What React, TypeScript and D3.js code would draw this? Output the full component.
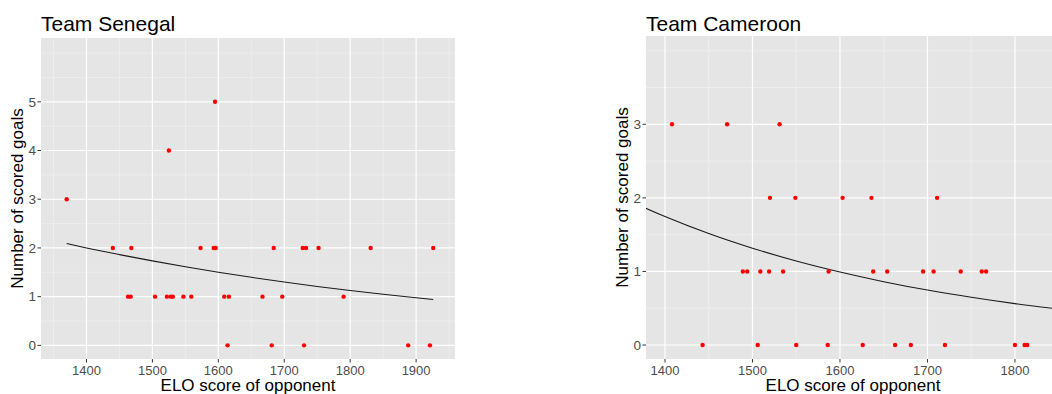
import React, { useRef, useEffect } from "react";
import * as d3 from "d3";

// Senegal: ELO of opponent and goals scored
const senegalElo = [
  1370, 1440, 1468, 1573, 1593, 1596, 1684, 1728, 1733, 1752, 1831, 1926,
  1463, 1467, 1504, 1522, 1528, 1531, 1547, 1559, 1609, 1616, 1667, 1697, 1790,
  1614, 1681, 1730, 1888, 1921, 1525, 1595,
];
const senegalGoals = [
  3, 2, 2, 2, 2, 2, 2, 2, 2, 2, 2, 2,
  1, 1, 1, 1, 1, 1, 1, 1, 1, 1, 1, 1, 1,
  0, 0, 0, 0, 0, 4, 5,
];
// fitted curve
const senegalFitElo = [1370, 1400, 1450, 1500, 1550, 1600, 1650, 1700, 1750, 1800, 1850, 1900, 1926];
const senegalFitGoals = [2.09, 2.0, 1.863, 1.734, 1.613, 1.502, 1.397, 1.301, 1.21, 1.126, 1.048, 0.976, 0.94];

// Cameroon
const cameroonElo = [
  1408, 1471, 1531,
  1520, 1549, 1603, 1636, 1711,
  1489, 1494, 1509, 1519, 1535, 1587, 1638, 1654, 1695, 1707, 1738, 1762, 1767,
  1443, 1506, 1550, 1586, 1626, 1663, 1681, 1720, 1800, 1811, 1814,
];
const cameroonGoals = [
  3, 3, 3,
  2, 2, 2, 2, 2,
  1, 1, 1, 1, 1, 1, 1, 1, 1, 1, 1, 1, 1,
  0, 0, 0, 0, 0, 0, 0, 0, 0, 0, 0,
];
const cameroonFitElo = [1378, 1400, 1450, 1500, 1550, 1600, 1650, 1700, 1750, 1800, 1850];
const cameroonFitGoals = [1.86, 1.747, 1.516, 1.316, 1.142, 0.992, 0.861, 0.747, 0.649, 0.563, 0.489];

const xTicks = [1400, 1500, 1600, 1700, 1800, 1900];
const xMinor = [1350, 1450, 1550, 1650, 1750, 1850, 1950];
const senegalYTicks = [0, 1, 2, 3, 4, 5];
const senegalYMinor = [0.5, 1.5, 2.5, 3.5, 4.5, 5.5, 6];
const cameroonYTicks = [0, 1, 2, 3];
const cameroonYMinor = [0.5, 1.5, 2.5, 3.5, 4];

const FONT = "'Liberation Sans', Arial, Helvetica, sans-serif";

function drawPanel(svg, opts) {
  const { title, elo, goals, fitElo, fitGoals, xDomain, xRange, yDomain, yRange, yTicks, yMinor, yTitleX, id } = opts;
  const x = d3.scaleLinear().domain(xDomain).range(xRange);
  const y = d3.scaleLinear().domain(yDomain).range(yRange);
  const [left, right] = xRange;
  const [bottom, top] = yRange;
  const g = svg.append("g");

  g.append("clipPath")
    .attr("id", id)
    .append("rect")
    .attr("x", left)
    .attr("y", top)
    .attr("width", right - left)
    .attr("height", bottom - top);

  g.append("rect")
    .attr("x", left)
    .attr("y", top)
    .attr("width", right - left)
    .attr("height", bottom - top)
    .attr("fill", "#e5e5e5");

  const grid = g.append("g").attr("clip-path", `url(#${id})`);
  const xMin = xMinor.filter((v) => v >= xDomain[0] && v <= xDomain[1]);
  const xMaj = xTicks.filter((v) => v >= xDomain[0] && v <= xDomain[1]);

  grid.selectAll(".hmin").data(yMinor).enter().append("line")
    .attr("x1", left).attr("x2", right)
    .attr("y1", (d) => y(d)).attr("y2", (d) => y(d))
    .attr("stroke", "#f4f4f4").attr("stroke-width", 0.6);
  grid.selectAll(".vmin").data(xMin).enter().append("line")
    .attr("y1", top).attr("y2", bottom)
    .attr("x1", (d) => x(d)).attr("x2", (d) => x(d))
    .attr("stroke", "#f4f4f4").attr("stroke-width", 0.6);
  grid.selectAll(".hmaj").data(yTicks).enter().append("line")
    .attr("x1", left).attr("x2", right)
    .attr("y1", (d) => y(d)).attr("y2", (d) => y(d))
    .attr("stroke", "#ffffff").attr("stroke-width", 1.2);
  grid.selectAll(".vmaj").data(xMaj).enter().append("line")
    .attr("y1", top).attr("y2", bottom)
    .attr("x1", (d) => x(d)).attr("x2", (d) => x(d))
    .attr("stroke", "#ffffff").attr("stroke-width", 1.2);

  // fitted curve
  const line = d3.line().x((d) => x(d[0])).y((d) => y(d[1])).curve(d3.curveMonotoneX);
  grid.append("path")
    .datum(fitElo.map((e, i) => [e, fitGoals[i]]))
    .attr("d", line)
    .attr("fill", "none")
    .attr("stroke", "#1a1a1a")
    .attr("stroke-width", 1.1);

  // points
  grid.selectAll(".pt").data(elo).enter().append("circle")
    .attr("cx", (d) => x(d))
    .attr("cy", (d, i) => y(goals[i]))
    .attr("r", 2.2)
    .attr("fill", "#ff0000");

  // x axis
  g.selectAll(".xt").data(xMaj).enter().append("line")
    .attr("x1", (d) => x(d)).attr("x2", (d) => x(d))
    .attr("y1", bottom).attr("y2", bottom + 3.5)
    .attr("stroke", "#333333").attr("stroke-width", 1);
  g.selectAll(".xl").data(xMaj).enter().append("text")
    .attr("x", (d) => x(d))
    .attr("y", bottom + 15.5)
    .attr("text-anchor", "middle")
    .attr("font-family", FONT)
    .attr("font-size", 13)
    .attr("fill", "#4d4d4d")
    .text((d) => d);

  // y axis
  g.selectAll(".yt").data(yTicks).enter().append("line")
    .attr("x1", left - 3.5).attr("x2", left)
    .attr("y1", (d) => y(d)).attr("y2", (d) => y(d))
    .attr("stroke", "#333333").attr("stroke-width", 1);
  g.selectAll(".yl").data(yTicks).enter().append("text")
    .attr("x", left - 5)
    .attr("y", (d) => y(d))
    .attr("dy", "0.35em")
    .attr("text-anchor", "end")
    .attr("font-family", FONT)
    .attr("font-size", 13.5)
    .attr("fill", "#4d4d4d")
    .text((d) => d);

  // titles
  g.append("text")
    .attr("x", left)
    .attr("y", 31)
    .attr("font-family", FONT)
    .attr("font-size", 21)
    .attr("fill", "#000")
    .text(title);

  g.append("text")
    .attr("x", opts.xTitleX)
    .attr("y", 391)
    .attr("text-anchor", "middle")
    .attr("font-family", FONT)
    .attr("font-size", 17)
    .attr("fill", "#000")
    .text("ELO score of opponent");

  g.append("text")
    .attr("transform", `translate(${yTitleX},${(top + bottom) / 2}) rotate(-90)`)
    .attr("text-anchor", "middle")
    .attr("font-family", FONT)
    .attr("font-size", 17)
    .attr("fill", "#000")
    .text("Number of scored goals");
}

const App = () => {
  const ref = useRef(null);

  useEffect(() => {
    const svg = d3.select(ref.current);
    svg.selectAll("*").remove();
    svg.append("rect").attr("width", 1052).attr("height", 394).attr("fill", "#fff");

    drawPanel(svg, {
      id: "clipSen",
      title: "Team Senegal",
      elo: senegalElo,
      goals: senegalGoals,
      fitElo: senegalFitElo,
      fitGoals: senegalFitGoals,
      xDomain: [1331, 1959],
      xRange: [41, 455],
      yDomain: [-0.28, 6.31],
      yRange: [359, 38],
      yTicks: senegalYTicks,
      yMinor: senegalYMinor,
      yTitleX: 22.5,
      xTitleX: 248,
    });

    drawPanel(svg, {
      id: "clipCam",
      title: "Team Cameroon",
      elo: cameroonElo,
      goals: cameroonGoals,
      fitElo: cameroonFitElo,
      fitGoals: cameroonFitGoals,
      xDomain: [1378.3, 1850],
      xRange: [646, 1058.7],
      yDomain: [-0.19, 4.2],
      yRange: [359, 36],
      yTicks: cameroonYTicks,
      yMinor: cameroonYMinor,
      yTitleX: 627.5,
      xTitleX: 853,
    });
  }, []);

  return (
    <svg
      ref={ref}
      width={1052}
      height={394}
      style={{ position: "absolute", left: 0, top: 0, display: "block" }}
    />
  );
};

export default App;
